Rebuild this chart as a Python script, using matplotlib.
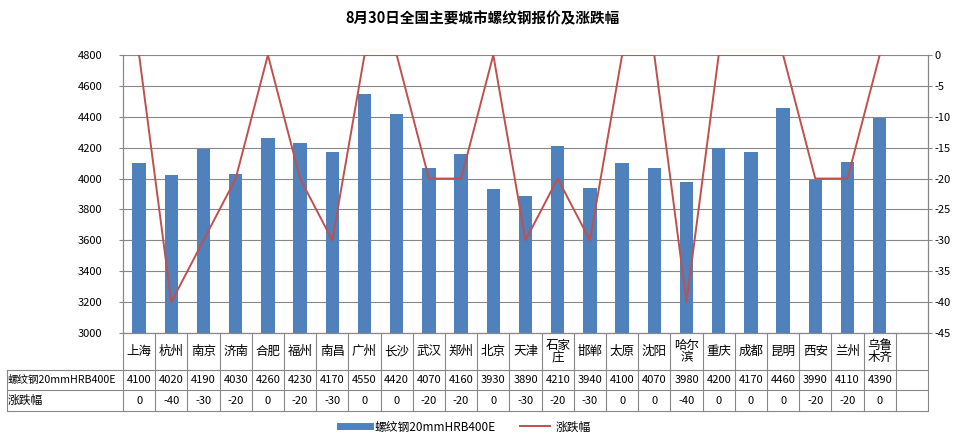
import matplotlib.pyplot as plt
import matplotlib.transforms as mtransforms
from matplotlib.lines import Line2D
import numpy as np

plt.rcParams['font.family'] = ['Noto Sans CJK SC', 'DejaVu Sans']
plt.rcParams['axes.unicode_minus'] = False

# data
cities = ['上海', '杭州', '南京', '济南', '合肥', '福州', '南昌', '广州', '长沙', '武汉',
          '郑州', '北京', '天津', '石家\n庄', '邯郸', '太原', '沈阳', '哈尔\n滨', '重庆', '成都',
          '昆明', '西安', '兰州', '乌鲁\n木齐']
price = [4100, 4020, 4190, 4030, 4260, 4230, 4170, 4550, 4420, 4070,
         4160, 3930, 3890, 4210, 3940, 4100, 4070, 3980, 4200, 4170,
         4460, 3990, 4110, 4390]
change = [0, -40, -30, -20, 0, -20, -30, 0, 0, -20,
          -20, 0, -30, -20, -30, 0, 0, -40, 0, 0,
          0, -20, -20, 0]
bar_name = '螺纹钢20mmHRB400E'
line_name = '涨跌幅'

bar_c = '#4F81BD'
line_c = '#C0504D'
grid_c = '#878787'

W, H = 964, 442
fig = plt.figure(figsize=(W / 100, H / 100), dpi=100)

def fx(px):
    return px / W

def fy(py):
    return 1 - py / H

left, right, top, bottom = 123, 928, 55, 333
ax = fig.add_axes([fx(left), fy(bottom), fx(right - left), fy(top) - fy(bottom)])
ncol = 25  # last column left empty like the original
x = np.arange(len(cities))

ax.bar(x, price, width=0.42, color=bar_c, zorder=3)
ax.set_xlim(-0.5, ncol - 0.5)
ax.set_ylim(3000, 4800)
ax.set_yticks(np.arange(3000, 4801, 200))
ax.set_xticks([])
ax.grid(axis='y', color=grid_c, lw=0.8, zorder=0)
ax.tick_params(axis='y', labelsize=8, length=3, color=grid_c, pad=12)
ax.spines['top'].set_visible(False)
for s in ['left', 'right', 'bottom']:
    ax.spines[s].set_color(grid_c)

ax2 = ax.twinx()
ax2.plot(x, change, color=line_c, lw=1.4, zorder=4)
ax2.set_ylim(-45, 0)
ax2.set_yticks(np.arange(-45, 1, 5))
ax2.tick_params(axis='y', labelsize=8, length=3, color=grid_c, pad=2)
ax2.spines['top'].set_visible(False)
for s in ['left', 'right', 'bottom']:
    ax2.spines[s].set_color(grid_c)

fig.text(0.5, fy(18), '8月30日全国主要城市螺纹钢报价及涨跌幅', ha='center', va='center',
         fontsize=10.5, fontweight='bold')

# data table under the axes
tr = mtransforms.blended_transform_factory(ax.transData, fig.transFigure)
row_y = [333, 370, 390, 411]
lw = 0.8
for i in range(ncol + 1):
    xx = i - 0.5
    fig.add_artist(Line2D([xx, xx], [fy(row_y[0]), fy(row_y[3])], transform=tr, color=grid_c, lw=lw))
for ry in row_y[1:]:
    fig.add_artist(Line2D([fx(7), fx(right)], [fy(ry), fy(ry)], color=grid_c, lw=lw))
fig.add_artist(Line2D([fx(7), fx(7)], [fy(370), fy(411)], color=grid_c, lw=lw))

for i, c in enumerate(cities):
    fig.text(i, fy((row_y[0] + row_y[1]) / 2), c, transform=tr, ha='center', va='center',
             fontsize=9, linespacing=1.0)
    fig.text(i, fy((row_y[1] + row_y[2]) / 2), str(price[i]), transform=tr, ha='center',
             va='center', fontsize=8)
    fig.text(i, fy((row_y[2] + row_y[3]) / 2), str(change[i]), transform=tr, ha='center',
             va='center', fontsize=8)
fig.text(fx(8), fy(380), bar_name, ha='left', va='center', fontsize=7.6)
fig.text(fx(8), fy(400), line_name, ha='left', va='center', fontsize=8.5)

handles = [Line2D([0], [0], color=bar_c, lw=5), Line2D([0], [0], color=line_c, lw=1.4)]
fig.legend(handles, [bar_name, line_name], loc='center', bbox_to_anchor=(fx(465), fy(427)),
           ncol=2, frameon=False, fontsize=8.5, handlelength=2.6, columnspacing=2.0,
           handletextpad=0.4)

fig.savefig('out.png', dpi=100, facecolor='white')
